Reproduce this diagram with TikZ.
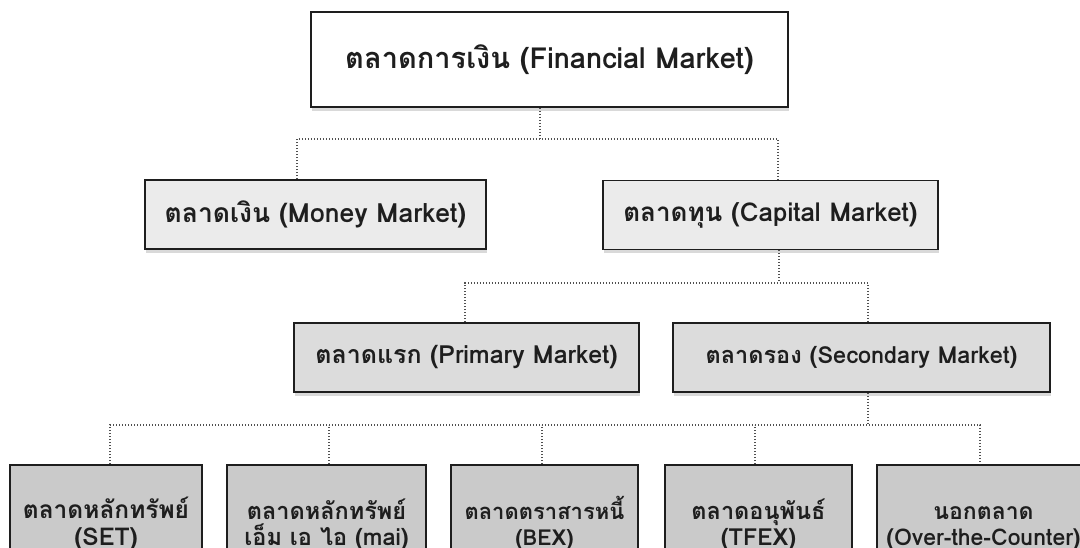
\documentclass[tikz,border=0pt]{standalone}
\usepackage{fontspec}
\newfontfamily\thaifont[Script=Thai]{Loma}
\usetikzlibrary{shadows}
\definecolor{ink}{HTML}{1E1E1E}
\definecolor{lvlA}{HTML}{FFFFFF}
\definecolor{lvlB}{HTML}{EBEBEB}
\definecolor{lvlC}{HTML}{DCDCDC}
\definecolor{lvlD}{HTML}{CACACA}
\definecolor{dotc}{HTML}{505050}
\tikzset{
  mbox/.style={draw=ink, line width=1.6pt, rectangle, inner sep=0pt, text=ink,
    font=\thaifont\bfseries\fontsize{25}{30}\selectfont,
    drop shadow={shadow xshift=1pt, shadow yshift=-4pt, opacity=0.25, fill=black!60}},
  fs/.style={font=\thaifont\bfseries\fontsize{#1}{26.5}\selectfont},
  topbox/.style={mbox, fill=lvlA, minimum width=477pt, minimum height=95pt, fs=29},
  midbox/.style={mbox, fill=lvlB, minimum height=69pt},
  lowbox/.style={mbox, fill=lvlC, minimum height=69pt},
  leafbox/.style={draw=ink, line width=1.6pt, rectangle, fill=lvlD, text=ink,
    anchor=north, align=center, inner xsep=0pt, inner ysep=21pt,
    minimum height=110pt, fs=23.5},
  conn/.style={draw=dotc, line width=1.2pt, dash pattern=on 1.2pt off 1.8pt}
}
\newcommand{\firstline}{\rule{0pt}{30pt}}
\begin{document}
\begin{tikzpicture}[x=1pt,y=-1pt]
\useasboundingbox (0,0) rectangle (1080,548);
\clip (0,0) rectangle (1080,548);

\node[topbox] (top) at (549.5,59.5) {ตลาดการเงิน (Financial Market)};

\node[midbox, minimum width=341pt, fs=26.5] (money) at (315.5,214.5) {ตลาดเงิน (Money Market)};
\node[midbox, minimum width=335pt, fs=26] (capital) at (770.5,215) {ตลาดทุน (Capital Market)};

\node[lowbox, minimum width=345pt, fs=25] (primary) at (466.5,357.5) {ตลาดแรก (Primary Market)};
\node[lowbox, minimum width=377pt, fs=23.5] (secondary) at (861.5,357.5) {ตลาดรอง (Secondary Market)};

\node[leafbox, minimum width=192pt, fs=24.5] (set) at (106,464) {\firstline ตลาดหลักทรัพย์\\(SET)};
\node[leafbox, minimum width=199pt, fs=23.5] (mai) at (326.5,464) {\firstline ตลาดหลักทรัพย์\\เอ็ม เอ ไอ (mai)};
\node[leafbox, minimum width=187pt, fs=22] (bex) at (544.5,464) {\firstline ตลาดตราสารหนี้\\(BEX)};
\node[leafbox, minimum width=187pt, fs=23.5] (tfex) at (758.5,464) {\firstline ตลาดอนุพันธ์\\(TFEX)};
\node[leafbox, minimum width=213pt, fs=23] (otc) at (983.5,464) {\firstline นอกตลาด\\(Over-the-Counter)};

% level 1 connectors
\coordinate (b1) at (540,139);
\draw[conn] (top.south -| b1) -- (b1);
\draw[conn] ([xshift=-18.5pt]money.north) |- (b1) -| ([xshift=7.5pt]capital.north);

% level 2 connectors
\coordinate (b2) at (779,283);
\draw[conn] (capital.south -| b2) -- (b2);
\draw[conn] ([xshift=-1.5pt]primary.north) |- (b2) -| ([xshift=6.5pt]secondary.north);

% level 3 connectors
\coordinate (b3) at (868,425);
\draw[conn] (secondary.south -| b3) -- (b3);
\draw[conn] ([xshift=4pt]set.north) |- (b3) -| ([xshift=-3.5pt]otc.north);
\draw[conn] ([xshift=2.5pt]mai.north) -- ([xshift=2.5pt]mai.north |- b3);
\draw[conn] ([xshift=-2.5pt]bex.north) -- ([xshift=-2.5pt]bex.north |- b3);
\draw[conn] ([xshift=-3.5pt]tfex.north) -- ([xshift=-3.5pt]tfex.north |- b3);
\end{tikzpicture}
\end{document}
